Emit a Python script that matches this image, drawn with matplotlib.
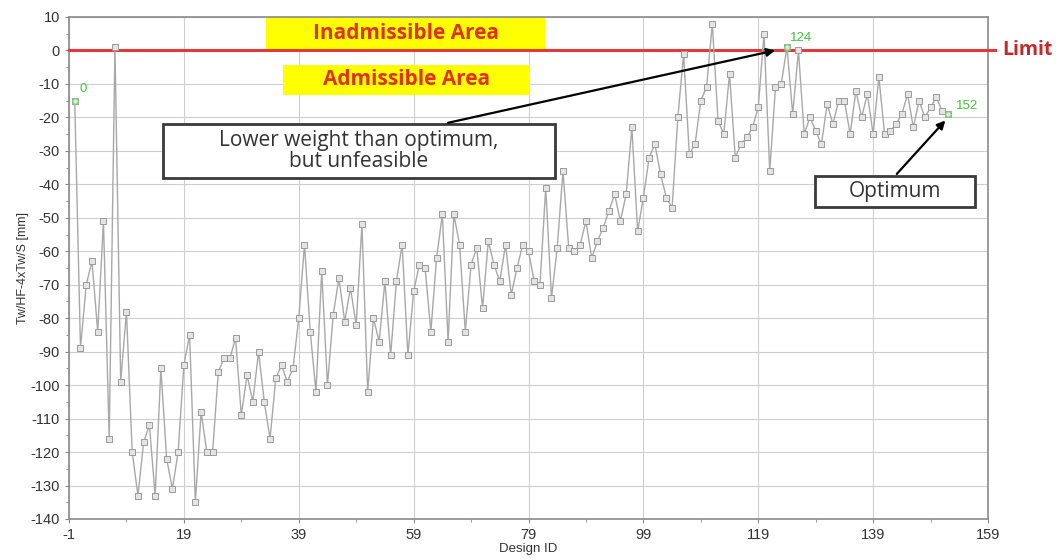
import matplotlib
matplotlib.use("Agg")
import matplotlib.pyplot as plt
from matplotlib.patches import Rectangle
import numpy as np

plt.rcParams['font.family'] = ['Liberation Sans', 'DejaVu Sans']
plt.rcParams['axes.unicode_minus'] = False

design_ids = list(range(0, 153))
values = [
    -15, -89, -70, -63, -84, -51, -116, 1, -99, -78,
    -120, -133, -117, -112, -133, -95, -122, -131, -120, -94,
    -85, -135, -108, -120, -120, -96, -92, -92, -86, -109,
    -97, -105, -90, -105, -116, -98, -94, -99, -95, -80,
    -58, -84, -102, -66, -100, -79, -68, -81, -71, -82,
    -52, -102, -80, -87, -69, -91, -69, -58, -91, -72,
    -64, -65, -84, -62, -49, -87, -49, -58, -84, -64,
    -59, -77, -57, -64, -69, -58, -73, -65, -58, -60,
    -69, -70, -41, -74, -59, -36, -59, -60, -58, -51,
    -62, -57, -53, -48, -43, -51, -43, -23, -54, -44,
    -32, -28, -37, -44, -47, -20, -1, -31, -28, -15,
    -11, 8, -21, -25, -7, -32, -28, -26, -23, -17,
    5, -36, -11, -10, 1, -19, 0, -25, -20, -24,
    -28, -16, -22, -15, -15, -25, -12, -20, -13, -25,
    -8, -25, -24, -22, -19, -13, -23, -15, -20, -17,
    -14, -18, -19,
]
highlight_ids = [0, 124, 152]
x_ticks = [-1, 19, 39, 59, 79, 99, 119, 139, 159]
y_ticks = list(range(-140, 11, 10))
limit_value = 0

fig = plt.figure(figsize=(10.64, 5.6), dpi=100)
ax = fig.add_axes([69/1064, 1-519/560, (988-69)/1064, (519-17)/560])
ax.set_xlim(-1, 159)
ax.set_ylim(-140, 10)

ax.set_xticks(x_ticks)
ax.set_yticks(y_ticks)
ax.set_xticks(np.arange(9, 159, 20), minor=True)
ax.set_yticks(np.arange(-135, 10, 5), minor=True)
ax.grid(True, which='major', color='#cfcfcf', linewidth=0.8)
ax.tick_params(axis='both', which='major', labelsize=10.5, length=3, color='#888888', colors='#333333')
ax.tick_params(axis='both', which='minor', length=2, color='#888888')
for s in ax.spines.values():
    s.set_color('#8a8a8a')
    s.set_linewidth(1.2)
ax.set_xlabel('Design ID', fontsize=9.5, color='#333333', labelpad=1)
ax.set_ylabel('Tw/HF-4xTw/S [mm]', fontsize=9, color='#333333', labelpad=1)

# limit line extending past the plot
ax.plot([-1, 160.2], [limit_value, limit_value], color='#e03a3a', lw=2.2, clip_on=False, zorder=3)
fig.text(1002/1064, 1-50/560, 'Limit', color='#c62828', fontsize=14, fontweight='bold',
         va='center', ha='left', family=['Open Sans', 'DejaVu Sans'])

# data line
ax.plot(design_ids, values, color='#a8a8a8', lw=1.0, marker='s', markersize=3.8,
        markerfacecolor='#e4e4e4', markeredgecolor='#9a9a9a', markeredgewidth=0.7, zorder=4)
for hid in highlight_ids:
    ax.plot(hid, values[hid], marker='o', markersize=4, markerfacecolor='none',
            markeredgecolor='#7ed67e', zorder=5)
ax.text(0.8, -12.5, '0', color='#44c044', fontsize=9.5)
ax.text(124.6, 2.8, '124', color='#44c044', fontsize=9.5)
ax.text(153.5, -17.5, '152', color='#44c044', fontsize=9.5)

# area labels
ax.add_patch(Rectangle((33.3, 0.3), 48.6, 9.7, facecolor='#ffff00', edgecolor='none', zorder=2))
ax.text(57.6, 5.0, 'Inadmissible Area', color='#e0301e', fontsize=15, fontweight='bold',
        ha='center', va='center', zorder=5, family=['Open Sans', 'DejaVu Sans'])
ax.add_patch(Rectangle((36.3, -13.3), 43.0, 9.0, facecolor='#ffff00', edgecolor='none', zorder=2))
ax.text(57.8, -8.8, 'Admissible Area', color='#e0301e', fontsize=15, fontweight='bold',
        ha='center', va='center', zorder=5, family=['Open Sans', 'DejaVu Sans'])

# annotation boxes
ax.add_patch(Rectangle((15.4, -38.1), 68.2, 16.1, facecolor='white', edgecolor='#3a3a3a',
                       linewidth=2, zorder=6))
ax.text(49.5, -30.0, 'Lower weight than optimum,\nbut unfeasible', fontsize=15, color='#333333',
        ha='center', va='center', zorder=7, linespacing=1.0, family=['Open Sans', 'DejaVu Sans'])
ax.annotate('', xy=(122.4, 0.2), xytext=(64.5, -21.8),
            arrowprops=dict(arrowstyle='-|>', color='black', lw=1.6, mutation_scale=12), zorder=8)

ax.add_patch(Rectangle((128.9, -46.8), 27.8, 9.3, facecolor='white', edgecolor='#3a3a3a',
                       linewidth=2, zorder=6))
ax.text(142.8, -42.2, 'Optimum', fontsize=15, color='#333333', ha='center', va='center', zorder=7,
        family=['Open Sans', 'DejaVu Sans'])
ax.annotate('', xy=(151.9, -20.3), xytext=(142.8, -37.5),
            arrowprops=dict(arrowstyle='-|>', color='black', lw=1.6, mutation_scale=12), zorder=8)

fig.savefig('out.png', dpi=100)
